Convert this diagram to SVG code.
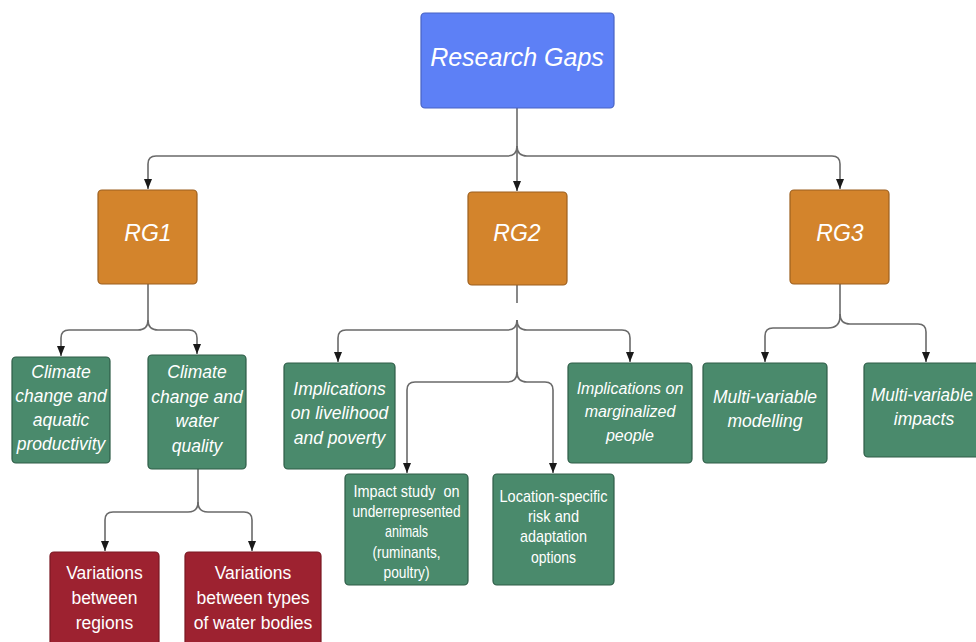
<svg xmlns="http://www.w3.org/2000/svg" width="976" height="642" viewBox="0 0 976 642">
<defs>
<marker id="arr" markerUnits="userSpaceOnUse" markerWidth="11" markerHeight="9" refX="10" refY="4" orient="auto">
<path d="M0,0 L10,4 L0,8 z" fill="#1a1a1a"/>
</marker>
<style>
.c{fill:none;stroke:#6a6a6a;stroke-width:1.6}
.a{marker-end:url(#arr)}
.blue{fill:#5d80f6;stroke:#4863c4;stroke-width:1.2}
.or{fill:#d3842c;stroke:#9c5f1e;stroke-width:1.2}
.gr{fill:#4a8a6c;stroke:#2e5c47;stroke-width:1.2}
.rd{fill:#9d2230;stroke:#7a1822;stroke-width:1.2}
text{fill:#ffffff;font-family:"Liberation Sans",Arial,sans-serif;text-anchor:middle}
.it{font-style:italic}
.t17{font-size:17.5px}
.t16{font-size:16px}
.nr{font-size:17px}
</style>
</defs>
<rect width="976" height="642" fill="#ffffff"/>
<g id="connectors">
<path class="c a" d="M517,108 V191"/>
<path class="c a" d="M517,146 Q517,156 507,156 H156 Q148,156 148,164 V189"/>
<path class="c a" d="M517,146 Q517,156 527,156 H832 Q840,156 840,164 V189"/>
<path class="c a" d="M148,284 V320 Q148,330 138,330 H69 Q61,330 61,338 V356"/>
<path class="c a" d="M148,320 Q148,330 158,330 H189 Q197,330 197,338 V354"/>
<path class="c a" d="M198,469 V502 Q198,512 188,512 H113 Q105,512 105,520 V551"/>
<path class="c a" d="M198,502 Q198,512 208,512 H244 Q252,512 252,520 V551"/>
<path class="c" d="M517,285 V303"/>
<path class="c" d="M517,320 V372"/>
<path class="c a" d="M517,320 Q517,330 507,330 H346 Q338,330 338,338 V362"/>
<path class="c a" d="M517,320 Q517,330 527,330 H622 Q630,330 630,338 V362"/>
<path class="c a" d="M517,372 Q517,382 507,382 H415 Q407,382 407,390 V473"/>
<path class="c a" d="M517,372 Q517,382 527,382 H545 Q553,382 553,390 V473"/>
<path class="c a" d="M840,284 V316 Q840,328 828,328 H773 Q765,328 765,336 V362"/>
<path class="c a" d="M840,314 Q840,324 850,324 H918 Q926,324 926,332 V362"/>
</g>
<g id="research-gaps">
<rect class="blue" x="421" y="13" width="193" height="95" rx="4"/>
<text class="it" x="517" y="66" font-size="25">Research Gaps</text>
</g>
<g id="rg1">
<rect class="or" x="98" y="190" width="99" height="94" rx="4"/>
<text class="it" x="148" y="241" font-size="23">RG1</text>
</g>
<g id="rg2">
<rect class="or" x="468" y="192" width="99" height="93" rx="4"/>
<text class="it" x="517" y="241" font-size="23">RG2</text>
</g>
<g id="rg3">
<rect class="or" x="790" y="190" width="99" height="94" rx="4"/>
<text class="it" x="840" y="241" font-size="23">RG3</text>
</g>
<g id="cc-aquatic">
<rect class="gr" x="12" y="357" width="98" height="106" rx="4"/>
<text class="it t17" x="61" y="378">Climate</text>
<text class="it t17" x="61" y="402">change and</text>
<text class="it t17" x="61" y="426">aquatic</text>
<text class="it t17" x="61" y="450">productivity</text>
</g>
<g id="cc-water">
<rect class="gr" x="148" y="355" width="98" height="114" rx="4"/>
<text class="it t17" x="197" y="378">Climate</text>
<text class="it t17" x="197" y="403">change and</text>
<text class="it t17" x="197" y="427">water</text>
<text class="it t17" x="197" y="452">quality</text>
</g>
<g id="livelihood">
<rect class="gr" x="284" y="363" width="111" height="106" rx="4"/>
<text class="it t17" x="339.5" y="395">Implications</text>
<text class="it t17" x="339.5" y="419">on livelihood</text>
<text class="it t17" x="339.5" y="444">and poverty</text>
</g>
<g id="marginalized">
<rect class="gr" x="568" y="363" width="124" height="100" rx="4"/>
<text class="it t16" x="630" y="394">Implications on</text>
<text class="it t16" x="630" y="417">marginalized</text>
<text class="it t16" x="630" y="441">people</text>
</g>
<g id="mv-modelling">
<rect class="gr" x="703" y="363" width="124" height="100" rx="4"/>
<text class="it t17" x="765" y="403">Multi-variable</text>
<text class="it t17" x="765" y="427">modelling</text>
</g>
<g id="mv-impacts">
<rect class="gr" x="864" y="363" width="124" height="94" rx="4"/>
<text class="it t17" x="922" y="401" textLength="102" lengthAdjust="spacingAndGlyphs">Multi-variable</text>
<text class="it t17" x="924" y="425">impacts</text>
</g>
<g id="impact-study">
<rect class="gr" x="345" y="474" width="123" height="111" rx="4"/>
<text class="nr" x="406.5" y="497" textLength="106" lengthAdjust="spacingAndGlyphs" xml:space="preserve">Impact study  on</text>
<text class="nr" x="406.5" y="517" textLength="108" lengthAdjust="spacingAndGlyphs">underrepresented</text>
<text class="nr" x="406.5" y="537" textLength="43" lengthAdjust="spacingAndGlyphs">animals</text>
<text class="nr" x="406.5" y="558" textLength="68" lengthAdjust="spacingAndGlyphs">(ruminants,</text>
<text class="nr" x="406.5" y="578" textLength="46" lengthAdjust="spacingAndGlyphs">poultry)</text>
</g>
<g id="location">
<rect class="gr" x="493" y="474" width="121" height="111" rx="4"/>
<text class="nr" x="553.5" y="502" textLength="108" lengthAdjust="spacingAndGlyphs">Location-specific</text>
<text class="nr" x="553.5" y="522" textLength="51" lengthAdjust="spacingAndGlyphs">risk and</text>
<text class="nr" x="553.5" y="542" textLength="67" lengthAdjust="spacingAndGlyphs">adaptation</text>
<text class="nr" x="553.5" y="563" textLength="45" lengthAdjust="spacingAndGlyphs">options</text>
</g>
<g id="var-regions">
<rect class="rd" x="50" y="552" width="109" height="100" rx="4"/>
<text class="t17" x="104.5" y="579">Variations</text>
<text class="t17" x="104.5" y="604">between</text>
<text class="t17" x="104.5" y="629">regions</text>
</g>
<g id="var-water">
<rect class="rd" x="185" y="552" width="136" height="100" rx="4"/>
<text class="t17" x="253" y="579">Variations</text>
<text class="t17" x="253" y="604">between types</text>
<text class="t17" x="253" y="629">of water bodies</text>
</g>
</svg>
